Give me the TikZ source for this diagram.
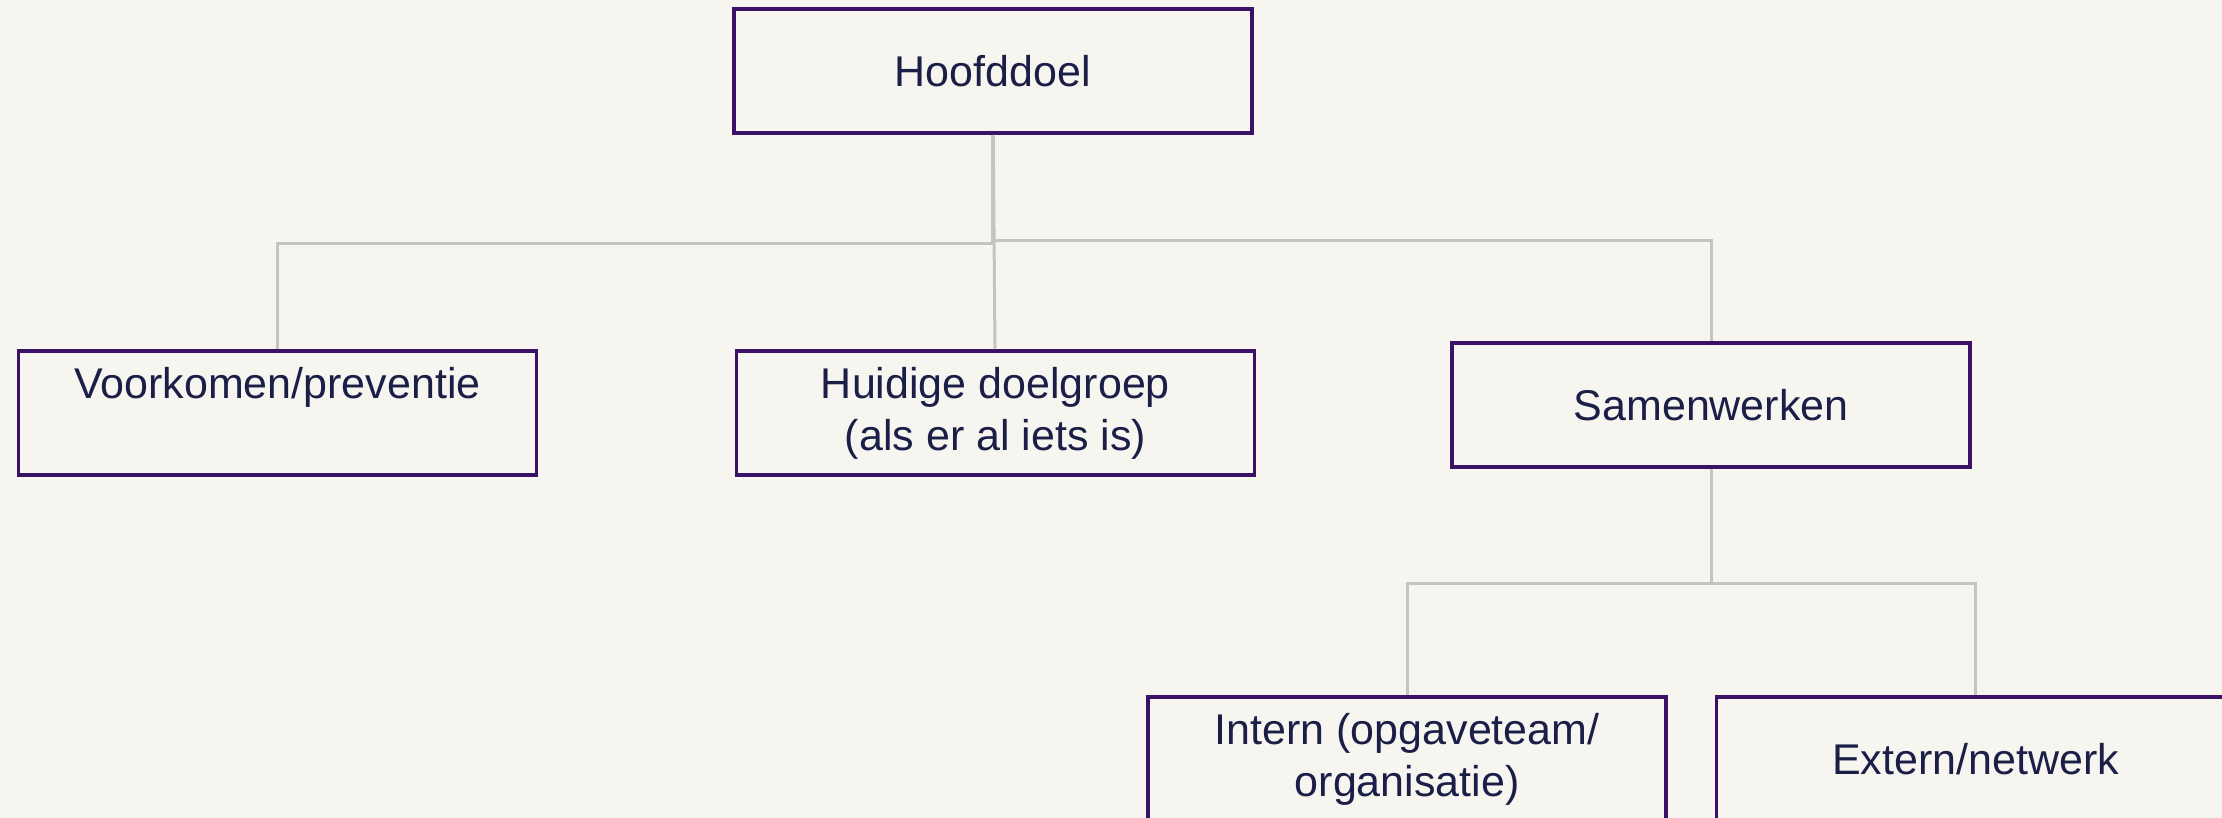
\documentclass[tikz,border=0pt]{standalone}
\usepackage{fontspec}
\setmainfont{Liberation Sans}
\usepackage{tikz}

\definecolor{pagebg}{HTML}{F6F5F0}
\definecolor{boxline}{HTML}{3A1166}
\definecolor{boxtext}{HTML}{1B1F47}
\definecolor{connline}{HTML}{C4C4C2}

\tikzset{
  box/.style={draw=boxline, line width=1.8pt, minimum width=259pt, minimum height=62pt,
    align=center, text=boxtext, font=\fontsize{21.5}{26}\selectfont},
  conn/.style={draw=connline, line width=1.5pt},
}

\begin{document}
\begin{tikzpicture}[x=0.5pt, y=-0.5pt, node distance=171pt]
        \useasboundingbox (0,0) rectangle (2222,818);
        \fill[pagebg] (0,0) rectangle (2222,818);
        \clip (0,0) rectangle (2222,818);

        \node [box] (root) at (992.7,71) {Hoofddoel};
        \node [box, below of=root, xshift=-357.6pt] (voork) {Voorkomen/preventie\\ \vphantom{(}};
        \node [box, below of=root, xshift=1.4pt] (huidig) {Huidige doelgroep\\(als er al iets is)};
        \node [box, below of=root, xshift=359.2pt, yshift=4pt] (samen) {Samenwerken};
        \node [box, below of=samen, xshift=-152pt, yshift=-6pt] (intern) {Intern (opgaveteam/\\organisatie)};
        \node [box, right of=intern, xshift=113.25pt] (extern) {Extern/netwerk};

        \draw[conn] (root) -- (huidig);
        \draw[conn] (root.south) -- ++(0,-54.5pt) -| (voork.north);
        \draw[conn] (root.south) -- ++(0,-53pt) -| (samen.north);
        \draw[conn] (samen.south) -- ++(0,-57.5pt) -| (intern.north);
        \draw[conn] (samen.south) -- ++(0,-57.5pt) -| (extern.north);
      \end{tikzpicture}
\end{document}
